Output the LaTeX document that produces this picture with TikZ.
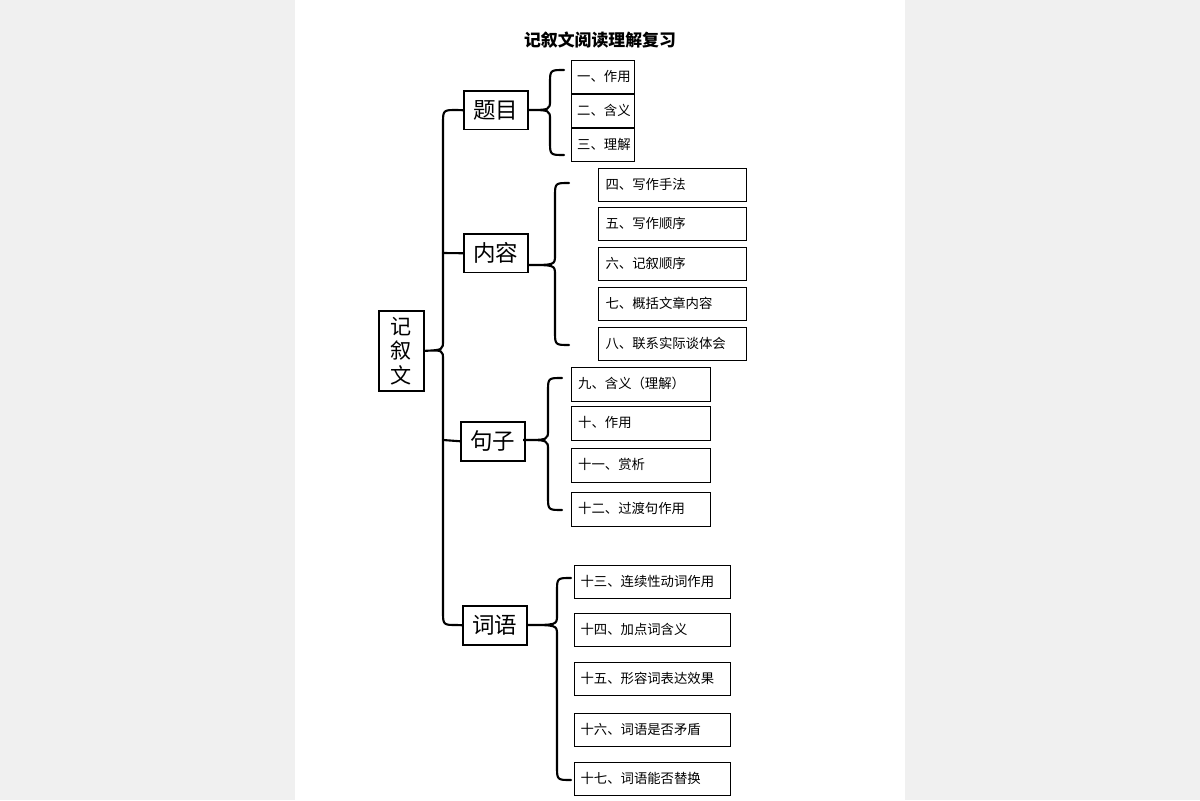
\documentclass[tikz,border=0pt]{standalone}
\usepackage{fontspec}
\newfontfamily\cjk{Noto Sans CJK SC}
\usetikzlibrary{positioning}

% brace: x, top y, bottom y, middle y, tip x
\newcommand{\bracepath}[5]{%
  \draw[brace] (#1+14,#2) .. controls (#1,#2) .. (#1,#2+14) -- (#1,#4-10)
    .. controls (#1,#4) .. (#5,#4) .. controls (#1,#4) .. (#1,#4+10)
    -- (#1,#3-14) .. controls (#1,#3) .. (#1+14,#3);}

\begin{document}
\begin{tikzpicture}[x=0.025cm,y=-0.025cm,
    leaf/.style={draw,thick,anchor=north west,inner sep=0pt,font=\cjk\fontsize{9.5}{11}\selectfont,text height=8pt,text depth=2pt,align=left},
    cat/.style={draw,line width=1.2pt,anchor=north west,inner sep=0pt,minimum width=1.6cm,minimum height=0.97cm,font=\cjk\fontsize{16}{18}\selectfont},
    brace/.style={line width=1.5pt,line cap=round}
  ]
  \fill[gray!12] (0,0) rectangle (1200,800);
  \fill[white] (295,0) rectangle (905,800);
  \useasboundingbox (0,0) rectangle (1200,800);

  \node[font=\cjk\bfseries\fontsize{12}{14}\selectfont] (title) at (600,40) {记叙文阅读理解复习};

  % root
  \node[draw,line width=1.2pt,anchor=north west,minimum width=1.12cm,minimum height=2cm,inner sep=0pt,align=center,font=\cjk\fontsize{15}{17.5}\selectfont] (root) at (378,310) {记\\叙\\文};

  % categories
  \node[cat] (timu) at (463,90) {题目};
  \node[cat] (neirong) at (463,233) {内容};
  \node[cat] (juzi) at (460,421) {句子};
  \node[cat] (ciyu) at (462,605) {词语};

  % leaves
  \foreach \y/\t [count=\i] in {60/一、作用,94/二、含义,128/三、理解}
    \node[leaf,minimum width=1.58cm,minimum height=0.82cm,text width=1.3cm] (t\i) at (571,\y) {\t};
  \foreach \y/\t [count=\i] in {168/四、写作手法,207/五、写作顺序,247/六、记叙顺序,287/七、概括文章内容,327/八、联系实际谈体会}
    \node[leaf,minimum width=3.7cm,minimum height=0.83cm,text width=3.35cm] (n\i) at (598,\y) {\t};
  \foreach \y/\t [count=\i] in {367/九、含义（理解）,406/十、作用,448/十一、赏析,492/十二、过渡句作用}
    \node[leaf,minimum width=3.48cm,minimum height=0.84cm,text width=3.15cm] (j\i) at (571,\y) {\t};
  \foreach \y/\t [count=\i] in {565/十三、连续性动词作用,613/十四、加点词含义,662/十五、形容词表达效果,713/十六、词语是否矛盾,762/十七、词语能否替换}
    \node[leaf,minimum width=3.9cm,minimum height=0.83cm,text width=3.6cm] (c\i) at (574,\y) {\t};

  % braces
  \draw[brace] (timu.west) -- (457,110) .. controls (443,110) .. (443,124) -- (443,340)
    .. controls (443,350) .. (root.east) .. controls (443,350) .. (443,360)
    -- (443,611) .. controls (443,625) .. (457,625) -- (ciyu.west);
  \draw[brace] (443,253) -- (neirong.west);
  \draw[brace] (443,440) -- (juzi.west);
  \bracepath{550}{70}{155}{110}{527}
  \bracepath{555}{183}{345}{265}{527}
  \bracepath{548}{378}{510}{440}{523}
  \bracepath{557}{578}{780}{625}{526}
\end{tikzpicture}
\end{document}
